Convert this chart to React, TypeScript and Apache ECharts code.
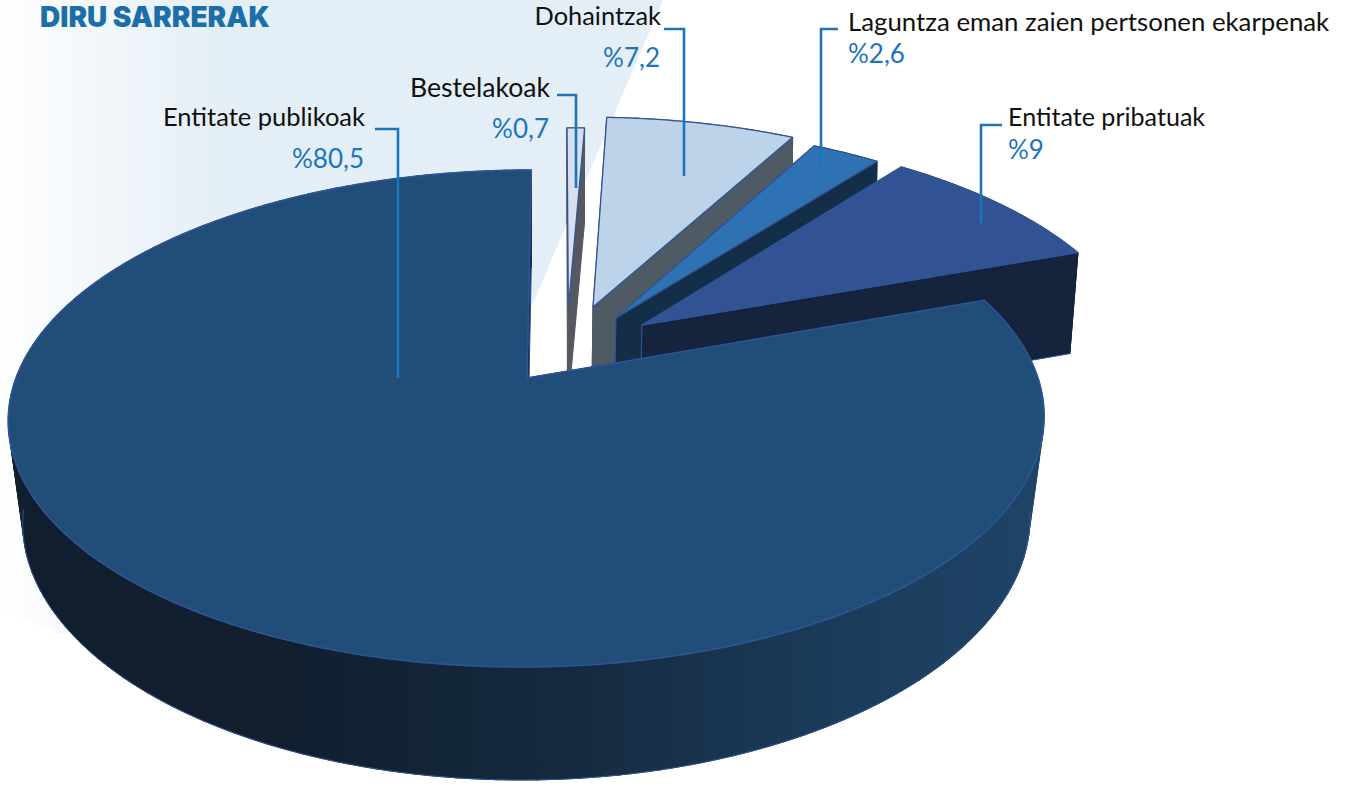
import React, { useEffect, useRef } from "react";
import * as echarts from "echarts";

// ---- data (clockwise from 12 o'clock)
const categories = ["Bestelakoak", "Dohaintzak", "Laguntza eman zaien pertsonen ekarpenak", "Entitate pribatuak", "Entitate publikoak"];
const shares = [0.7, 7.2, 2.6, 9, 80.5];
const chartTitle = "DIRU SARRERAK";

// ---- look
const topColors = ["#d8dfee", "#bdd3e9", "#2e72b3", "#315393", "#214e78"];
const wallColors = ["#55595f", "#4e5a64", "#142e48", "#15233d", "#15283c"];
const edgeColor = "#2f5597";
const LEADER = "#1b75bc";
const FONT = "Lato";
const nameSizes = [26.6, 25.4, 25.8, 25.1, 25.5];

// ---- perspective of the disc
const CX = 527, CY = 378, A = 511, B = 241.9, C = 5, K = 0.163;
const explodeU = [0.082, 0.1326, 0.179, 0.2312, 0];
const explodeV = [0.3037, 0.308, 0.2585, 0.2272, 0];
const radii = [0.94, 1, 1, 1, 1];

const top3d = (u: number, v: number) => {
  const w = 1 + K * v;
  return [CX + (A * u + C * v) / w, CY - (B * v) / w];
};
const bottom3d = (u: number, v: number) => {
  const p = top3d(u, v);
  const sx = 0.975 + 0.018 * v;
  return [CX + (p[0] - CX) * sx, p[1] + 105.3 - 7.66 * v];
};

// ---- label layout
const nameAnchors = [
  { x: 550, y: 87, align: "right" },
  { x: 661, y: 15, align: "right" },
  { x: 848, y: 21, align: "left" },
  { x: 1008, y: 116, align: "left" },
  { x: 365, y: 116, align: "right" },
];
const shareAnchors = [
  { x: 549, y: 128 },
  { x: 660, y: 57 },
  { x: 848, y: 53 },
  { x: 1008, y: 149 },
  { x: 364, y: 158 },
];
const leaders = [
  [[557, 95], [576, 95], [576, 188]],
  [[664, 29], [684, 29], [684, 176]],
  [[838, 29], [821, 29], [821, 172]],
  [[1002, 125], [981, 125], [981, 223]],
  [[375, 129], [398, 129], [398, 378]],
];

const backdrop = [[0, 0], [663, 0], [533, 303], [500, 380], [62, 635], [0, 610]];

const angleRange = (i: number) => {
  const before = shares.slice(0, i).reduce((a, b) => a + b, 0);
  return [90 - before * 3.6, 90 - (before + shares[i]) * 3.6];
};

const renderSlice = (params: any) => {
  const i = params.dataIndex;
  const [a0, a1] = angleRange(i);
  const ou = explodeU[i], ov = explodeV[i], r = radii[i];
  const arcTop: number[][] = [];
  const arcBottom: number[][] = [];
  const frontBottom: number[][] = [];
  const steps = Math.max(4, Math.ceil((a0 - a1) * 2));
  for (let s = 0; s <= steps; s++) {
    const t = ((a0 + ((a1 - a0) * s) / steps) * Math.PI) / 180;
    const u = ou + r * Math.cos(t), v = ov + r * Math.sin(t);
    arcTop.push(top3d(u, v));
    arcBottom.push(bottom3d(u, v));
    if (v < -0.1) frontBottom.push(bottom3d(u, v));
  }
  const apexTop = top3d(ou, ov);
  const apexBottom = bottom3d(ou, ov);
  const isMain = i === shares.length - 1;
  const wallFill: any = isMain
    ? new echarts.graphic.LinearGradient(
        0, 0, 1040, 0,
        [
          { offset: 0, color: "#111e2e" },
          { offset: 0.28, color: "#111f2f" },
          { offset: 0.55, color: "#152a40" },
          { offset: 0.78, color: "#1b3a58" },
          { offset: 1, color: "#1f4468" },
        ],
        true
      )
    : wallColors[i];
  const wallStroke = i <= 1 ? wallColors[i] : edgeColor;
  const wall = (points: number[][], fill: any, stroke: any) => ({
    type: "polygon",
    shape: { points },
    silent: true,
    style: { fill, stroke, lineWidth: 1, lineJoin: "round" },
  });
  const children: any[] = [];
  // radial wall on the first edge of the slice
  children.push(
    isMain
      ? wall([apexTop, arcTop[0], [apexBottom[0] + 3, apexBottom[1]]], "#0f1c30", "#0f1c30")
      : wall([apexTop, arcTop[0], arcBottom[0], apexBottom], wallColors[i], wallStroke)
  );
  // radial wall on the last edge of the slice
  children.push(wall([apexTop, arcTop[steps], arcBottom[steps], apexBottom], wallColors[i], wallStroke));
  // outer wall, in short pieces so that the strip never folds over itself
  const chunk = 8;
  for (let s = 0; s < steps; s += chunk) {
    const e = Math.min(steps, s + chunk + 1);
    const pts = [...arcTop.slice(s, e + 1), ...arcBottom.slice(s, e + 1).reverse()];
    children.push(wall(pts, wallFill, wallFill));
  }
  if (isMain) {
    children.push({
      type: "polyline",
      shape: { points: frontBottom },
      silent: true,
      style: { fill: "none", stroke: edgeColor, lineWidth: 1 },
    });
  }
  children.push({
    type: "polygon",
    shape: { points: [apexTop, ...arcTop] },
    silent: true,
    style: { fill: topColors[i], stroke: edgeColor, lineWidth: isMain ? 1.5 : 1.3, lineJoin: "round" },
  });
  return { type: "group", children };
};

const renderLabel = (params: any) => {
  const i = params.dataIndex;
  const name = nameAnchors[i], share = shareAnchors[i];
  return {
    type: "group",
    silent: true,
    children: [
      {
        type: "polyline",
        shape: { points: leaders[i] },
        style: { fill: "none", stroke: LEADER, lineWidth: 2.6 },
      },
      {
        type: "text",
        style: {
          x: name.x, y: name.y,
          text: categories[i],
          fill: "#111111",
          font: `400 ${nameSizes[i]}px ${FONT}`,
          align: name.align,
          verticalAlign: "middle",
        },
      },
      {
        type: "text",
        style: {
          x: share.x, y: share.y,
          text: "%" + String(shares[i]).replace(".", ","),
          fill: LEADER,
          font: `400 26px ${FONT}`,
          align: name.align,
          verticalAlign: "middle",
        },
      },
    ],
  };
};

export default function App() {
  const ref = useRef<HTMLDivElement>(null);
  useEffect(() => {
    document.body.style.margin = "0";
    const chart = echarts.init(ref.current!, undefined, { renderer: "svg" });
    chart.setOption({
      animation: false,
      backgroundColor: "#ffffff",
      title: {
        text: chartTitle,
        left: 40,
        top: 3,
        padding: 0,
        textStyle: { fontFamily: "Inter", fontWeight: 900, fontSize: 28, color: "#1a6fa8" },
      },
      graphic: {
        elements: [
          {
            type: "polygon",
            z: 0,
            silent: true,
            shape: { points: backdrop },
            style: {
              fill: new echarts.graphic.LinearGradient(
                -10, 0, 220, 0,
                [
                  { offset: 0, color: "#ffffff" },
                  { offset: 1, color: "#e4eef6" },
                ],
                true
              ),
            },
          },
        ],
      },
      series: [
        {
          type: "custom",
          coordinateSystem: "none",
          z: 2,
          silent: true,
          renderItem: renderSlice,
          data: categories.map((name, i) => ({ name, value: shares[i] })),
        },
        {
          type: "custom",
          coordinateSystem: "none",
          z: 5,
          silent: true,
          renderItem: renderLabel,
          data: categories.map((name, i) => ({ name, value: shares[i] })),
        },
      ],
    });
    return () => chart.dispose();
  }, []);
  return <div ref={ref} style={{ width: 1349, height: 787 }} />;
}
